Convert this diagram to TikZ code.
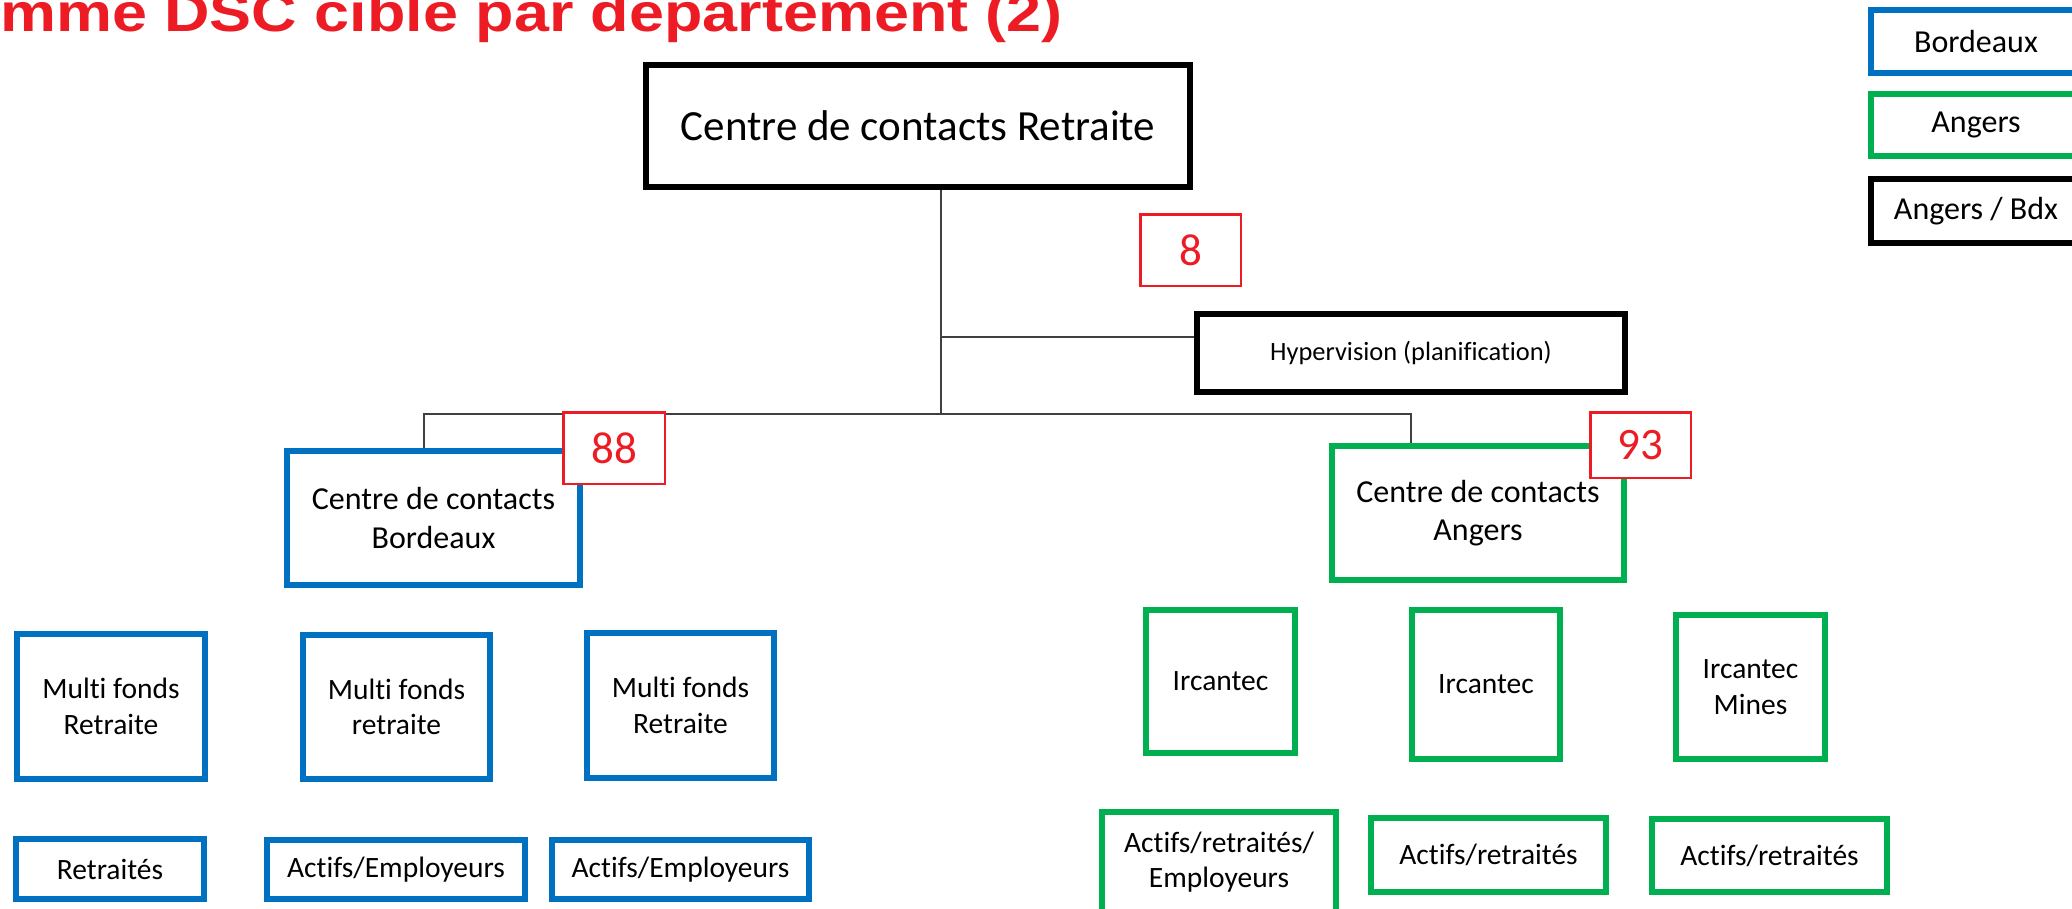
\documentclass[tikz,border=0pt]{standalone}
\usepackage{graphicx}
\usepackage{fontspec}
\setmainfont{Carlito}[Ligatures=NoCommon]
\newfontfamily\headfont{Liberation Sans}
\usetikzlibrary{positioning}
\definecolor{bdxblue}{RGB}{0,112,192}
\definecolor{angreen}{RGB}{0,176,80}
\definecolor{alertred}{RGB}{237,28,36}
\definecolor{wire}{RGB}{64,64,64}
\newcommand{\fhead}{\headfont\bfseries\fontsize{54}{60}\selectfont}
\newcommand{\fbig}{\fontsize{43}{52}\selectfont}
\newcommand{\fmid}{\fontsize{32}{38.5}\selectfont}
\newcommand{\fsmall}{\fontsize{29.5}{35.5}\selectfont}
\newcommand{\fhyp}{\fontsize{26.4}{32}\selectfont}
\newcommand{\fnum}{\fontsize{45}{54}\selectfont}
\tikzset{
orga/.style={
    x=1pt,
    y=-1pt,
    inner sep=0pt
},
unit/.style={
    rectangle,
    draw,
    fill=white,
    line width=6pt,
    align=center
},
bdx/.style={
    unit,
    draw=bdxblue
},
ang/.style={
    unit,
    draw=angreen
},
mix/.style={
    unit,
    draw=black
},
tally/.style={
    rectangle,
    draw=alertred,
    fill=white,
    line width=2.5pt,
    text=alertred,
    font=\fnum
},
dims/.style 2 args={
    minimum width=#1pt,
    minimum height=#2pt
},
link/.style={
    draw=wire,
    line width=1.8pt
}}

\begin{document}
\begin{tikzpicture}[orga]
\useasboundingbox (0,0) rectangle (2072,908);
\clip (0,0) rectangle (2072,908);

\node[anchor=base west, text=alertred, font=\fhead]    (ttl)    at (0,31)    {\scalebox{1.165}[1]{mme DSC cible par département (2)}};

\node[mix, font=\fbig]    (cret)    at (918,126)    [dims={544}{122}]    {Centre de contacts Retraite};
\node[mix, font=\fhyp]    (hyp)    at (1411,353)    [dims={428}{78}]    {Hypervision (planification)};
\node[bdx, font=\fmid]    (cbdx)    at (433.5,518)    [dims={293}{134}]    {Centre de contacts\\Bordeaux};
\node[ang, font=\fmid]    (cang)    at (1478,513)    [dims={292}{134}]    {Centre de contacts\\Angers};

\node[bdx, font=\fsmall]    (mf1)    at (111,706.5)    [dims={188}{145}]    {Multi fonds\\Retraite};
\node[bdx, font=\fsmall]    (mf2)    at (396.5,707)    [dims={187}{144}]    {Multi fonds\\retraite};
\node[bdx, font=\fsmall]    (mf3)    at (680.5,705.5)    [dims={187}{145}]    {Multi fonds\\Retraite};
\node[bdx, font=\fsmall]    (pub1)    at (110,869)    [dims={188}{60}]    {Retraités};
\node[bdx, font=\fsmall]    (pub2)    at (396,869.5)    [dims={258}{59}]    {Actifs/Employeurs};
\node[bdx, font=\fsmall]    (pub3)    at (680.5,869.5)    [dims={257}{59}]    {Actifs/Employeurs};

\node[ang, font=\fsmall]    (irc1)    at (1220.5,681.5)    [dims={149}{143}]    {Ircantec};
\node[ang, font=\fsmall]    (irc2)    at (1486,684.5)    [dims={148}{149}]    {Ircantec};
\node[ang, font=\fsmall]    (irc3)    at (1750.5,687)    [dims={149}{144}]    {Ircantec\\Mines};
\node[ang, font=\fsmall]    (aud1)    at (1219,862)    [dims={234}{100}]    {Actifs/retraités/\\Employeurs};
\node[ang, font=\fsmall]    (aud2)    at (1488.5,855)    [dims={235}{74}]    {Actifs/retraités};
\node[ang, font=\fsmall]    (aud3)    at (1769.5,855.5)    [dims={235}{73}]    {Actifs/retraités};

\node[bdx, font=\fmid]    (lg1)    at (1976,41.5)    [dims={210}{63}]    {Bordeaux};
\node[ang, font=\fmid]    (lg2)    at (1976,125)    [dims={210}{62}]    {Angers};
\node[mix, font=\fmid]    (lg3)    at (1976,211)    [dims={210}{64}]    {Angers / Bdx};

\coordinate    (hub)    at (941,337);
\coordinate    (busb)    at (424,414);
\coordinate    (busm)    at (941,414);
\coordinate    (busa)    at (1411,414);

\path    (cret.south -| hub)    edge[link]    (busm);
\path    (hub)    edge[link]    (hyp.west |- hub);
\draw[link]    (cbdx.north -| busb) -- (busb) -- (busa) -- (cang.north -| busa);

\node[tally]    (t8)    at (1190.5,250)    [dims={100.5}{71.5}]    {8};
\node[tally]    (t88)    at (614,448)    [dims={101.5}{71.5}]    {88};
\node[tally]    (t93)    at (1640.5,445)    [dims={100.5}{65.5}]    {93};
\end{tikzpicture}
\end{document}
